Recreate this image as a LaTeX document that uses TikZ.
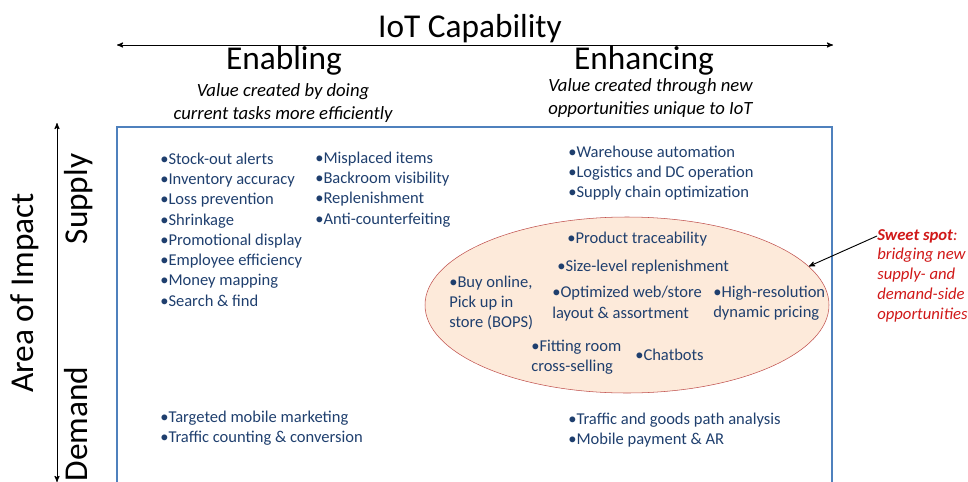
\documentclass[tikz,border=0pt]{standalone}
\usepackage{fontspec}
\setmainfont{Carlito}
\usepackage{tikz}
\usetikzlibrary{arrows,shapes.geometric,positioning}

\definecolor{itemblue}{HTML}{1F3F6E}
\definecolor{frameblue}{HTML}{4F81BD}
\definecolor{spotfill}{HTML}{FDEADA}
\definecolor{spotline}{HTML}{C0504D}
\definecolor{spotred}{HTML}{D01818}

\begin{document}
\begin{tikzpicture}
	[x=0.75pt,y=-0.75pt,>=stealth',
		title node/.style={font=\fontsize{25}{30}\selectfont,anchor=base,inner sep=0pt},
		sub node/.style={font=\fontsize{14}{17.2}\selectfont\itshape,inner sep=0pt},
		side node/.style={font=\fontsize{25}{30}\selectfont,rotate=90,anchor=base,inner sep=0pt},
		item node/.style={font=\fontsize{12.4}{15.2}\selectfont,text=itemblue,align=left,anchor=west,inner sep=0pt},
		spot node/.style={ellipse,draw=spotline,fill=spotfill,thin,minimum width=303pt,minimum height=132pt,inner sep=0pt},
		note node/.style={font=\fontsize{12.5}{15}\selectfont\itshape,text=spotred,align=left,anchor=west,inner sep=0pt}]

	\useasboundingbox (0,0) rectangle (968,482);

	% axes
	\coordinate (capL) at (117,45);
	\coordinate (capR) at (833,45);
	\coordinate (impT) at (57,123);
	\coordinate (impB) at (57,482);
	\draw[<->,line width=0.7pt] (capL) -- (capR);
	\draw[<->,line width=0.7pt] (impT) -- (impB);

	\node[title node] (cap) at (470,37) {IoT Capability};
	\node[title node] (enab) at (284,69) {Enabling};
	\node[title node] (enh) at (644,69) {Enhancing};
	\node[sub node,align=center] (enabsub) at (283,103) {Value created by doing\\current tasks more efficiently};
	\node[sub node,align=left,anchor=west] (enhsub) at (548,98) {Value created through new\\opportunities unique to IoT};

	\node[side node] (area) at (33,293) {Area of Impact};
	\node[side node] (supply) at (87,199) {Supply};
	\node[side node] (demand) at (87,424) {Demand};

	% quadrant frame
	\draw[frameblue,line width=2.2pt] (117,127) rectangle (832,495);

	\node[item node] (suppA) at (160,229.5) {•Stock-out alerts\\•Inventory accuracy\\•Loss prevention\\•Shrinkage\\•Promotional display\\•Employee efficiency\\•Money mapping\\•Search \& find};
	\node[item node] (suppB) at (315,189.5) {•Misplaced items\\•Backroom visibility\\•Replenishment\\•Anti-counterfeiting};
	\node[item node] (suppC) at (568,173) {•Warehouse automation\\•Logistics and DC operation\\•Supply chain optimization};
	\node[item node] (demA) at (160,428) {•Targeted mobile marketing\\•Traffic counting \& conversion};
	\node[item node] (demB) at (568,430) {•Traffic and goods path analysis\\•Mobile payment \& AR};

	% sweet spot
	\node[spot node] (spot) at (627,305) {};
	\node[item node] (trace) at (567,239) {•Product traceability};
	\node[item node] (sizelvl) at (557,267) {•Size-level replenishment};
	\node[item node] (bops) at (449,303) {•Buy online,\\Pick up in\\store (BOPS)};
	\node[item node] (layout) at (552,303.5) {•Optimized web/store\\layout \& assortment};
	\node[item node] (pricing) at (713,303.5) {•High-resolution\\dynamic pricing};
	\node[item node] (fitting) at (531,357.5) {•Fitting room\\cross-selling};
	\node[item node] (chat) at (635,355) {•Chatbots};

	\node[note node] (sweet) at (877,236) {\textbf{Sweet spot}:};
	\node[note node] (bridge) at (877,285.5) {bridging new\\supply- and\\demand-side\\opportunities};

	\draw[->,line width=0.7pt] (sweet.west) -- (spot.12);

\end{tikzpicture}
\end{document}
